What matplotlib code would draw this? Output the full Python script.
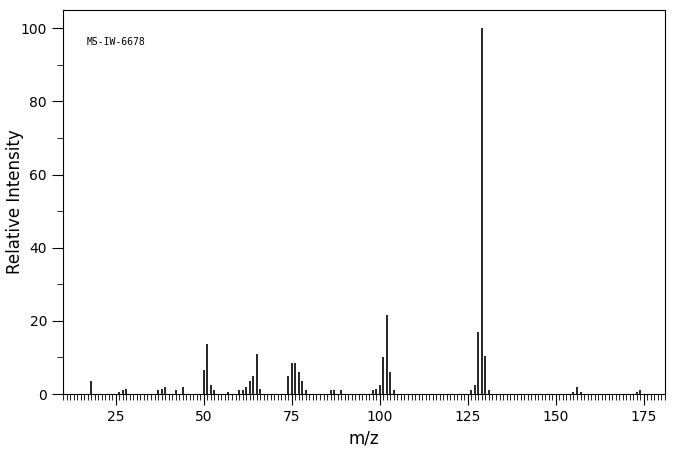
import matplotlib
matplotlib.use("Agg")
import matplotlib.pyplot as plt
from matplotlib.ticker import MultipleLocator

mz = [18, 26, 27, 28, 37, 38, 39, 42, 44, 50, 51, 52, 53, 57, 60, 61, 62, 63, 64, 65, 66,
      74, 75, 76, 77, 78, 79, 86, 87, 89, 98, 99, 100, 101, 102, 103, 104,
      126, 127, 128, 129, 130, 131, 155, 156, 157, 173, 174]
intensity = [3.5, 0.5, 1.0, 1.5, 1.0, 1.5, 2.0, 1.0, 2.0, 6.5, 13.7, 2.5, 1.0, 0.5, 1.0, 1.0, 2.0, 3.5, 5.0, 11.0, 1.5,
             5.0, 8.5, 8.5, 6.0, 3.5, 1.0, 1.0, 1.0, 1.0, 1.0, 1.5, 2.5, 10.0, 21.5, 6.0, 1.0,
             1.0, 2.5, 17.0, 100.0, 10.5, 1.0, 0.5, 2.0, 0.5, 0.5, 1.0]

fig = plt.figure(figsize=(6.76, 4.55), dpi=100)
ax = fig.add_axes([63/676, 1-394/455, (665-63)/676, (394-10)/455])
ax.vlines(mz, 0, intensity, colors="black", linewidth=1.2)
ax.set_xlim(10, 181)
ax.set_ylim(0, 105)
ax.xaxis.set_major_locator(MultipleLocator(25))
ax.xaxis.set_minor_locator(MultipleLocator(1))
ax.yaxis.set_major_locator(MultipleLocator(20))
ax.yaxis.set_minor_locator(MultipleLocator(10))
ax.tick_params(which="major", length=8, labelsize=10, direction="out")
ax.tick_params(which="minor", length=4, direction="out")
ax.set_xlabel("m/z", fontsize=12)
ax.set_ylabel("Relative Intensity", fontsize=12)
ax.yaxis.set_label_coords(-0.065, 0.5)
ax.text(0.04, 0.93, "MS-IW-6678", transform=ax.transAxes, fontsize=7,
        family="DejaVu Sans Mono", va="top")
fig.savefig("out.png", dpi=100)
